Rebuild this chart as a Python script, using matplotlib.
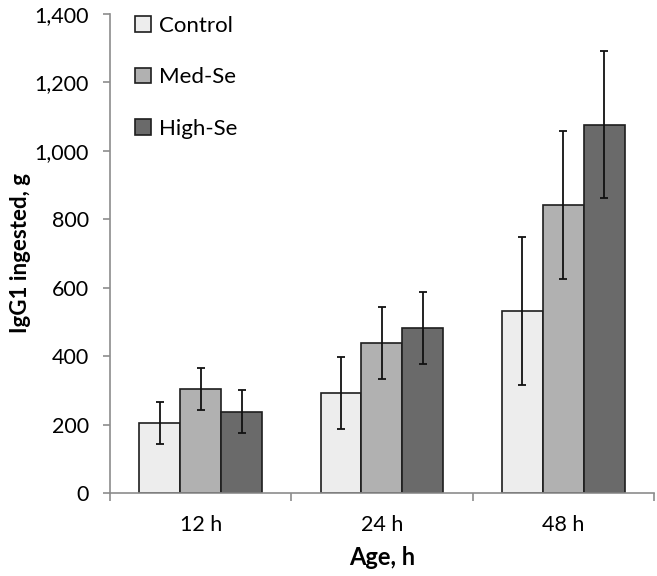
import numpy as np
import matplotlib.pyplot as plt
from matplotlib.ticker import FuncFormatter, FixedLocator

# DATA
ages = ["12 h", "24 h", "48 h"]
groups = ["Control", "Med-Se", "High-Se"]
control = [204, 293, 533]
med_se = [304, 438, 842]
high_se = [238, 483, 1077]
control_err = [61, 105, 216]
med_se_err = [61, 106, 217]
high_se_err = [62, 105, 216]

colors = ["#ededed", "#b1b1b1", "#6a6a6a"]
AXIS_GRAY = "#8c8c8c"

plt.rcParams["font.family"] = ["Lato", "DejaVu Sans"]

fig = plt.figure(figsize=(6.57, 5.76), dpi=100)
ax = fig.add_axes([0.1674, 0.1441, 0.828, 0.8316])

x = np.arange(len(ages))
width = 0.226
series = [control, med_se, high_se]
errors = [control_err, med_se_err, high_se_err]

for i, (vals, errs) in enumerate(zip(series, errors)):
    ax.bar(x + (i - 1) * width, vals, width, color=colors[i],
           edgecolor="#1e1e1e", linewidth=1.2, label=groups[i],
           yerr=errs, capsize=3,
           error_kw=dict(ecolor="#111111", elinewidth=1.3, capthick=1.3))

ax.set_xlim(-0.5, 2.5)
ax.set_ylim(0, 1400)
ax.set_yticks(np.arange(0, 1401, 200))
ax.yaxis.set_major_formatter(FuncFormatter(lambda v, p: f"{int(v):,}"))

ax.set_xticks(x)
ax.set_xticklabels(ages)
ax.xaxis.set_minor_locator(FixedLocator([-0.5, 0.5, 1.5, 2.5]))
ax.tick_params(axis="x", which="major", length=0, labelsize=15.5, pad=16)
ax.tick_params(axis="x", which="minor", length=6, width=1.2, color=AXIS_GRAY, direction="out")
ax.tick_params(axis="y", which="major", length=5, width=1.2, color=AXIS_GRAY,
               direction="out", labelsize=15.5, pad=10)

for side in ["top", "right"]:
    ax.spines[side].set_visible(False)
for side in ["left", "bottom"]:
    ax.spines[side].set_color(AXIS_GRAY)
    ax.spines[side].set_linewidth(1.2)

ax.set_ylabel("IgG1 ingested, g", fontsize=16, fontweight="bold", va="center")
ax.yaxis.set_label_coords(-0.165, 0.5)
ax.set_xlabel("Age, h", fontsize=17, fontweight="bold", labelpad=8)

ax.legend(loc="upper left", bbox_to_anchor=(0.03, 1.015), frameon=False,
          fontsize=16, handlelength=0.7, handleheight=0.7, handletextpad=0.35,
          labelspacing=1.42, borderaxespad=0)

fig.savefig("out.png", dpi=100)
